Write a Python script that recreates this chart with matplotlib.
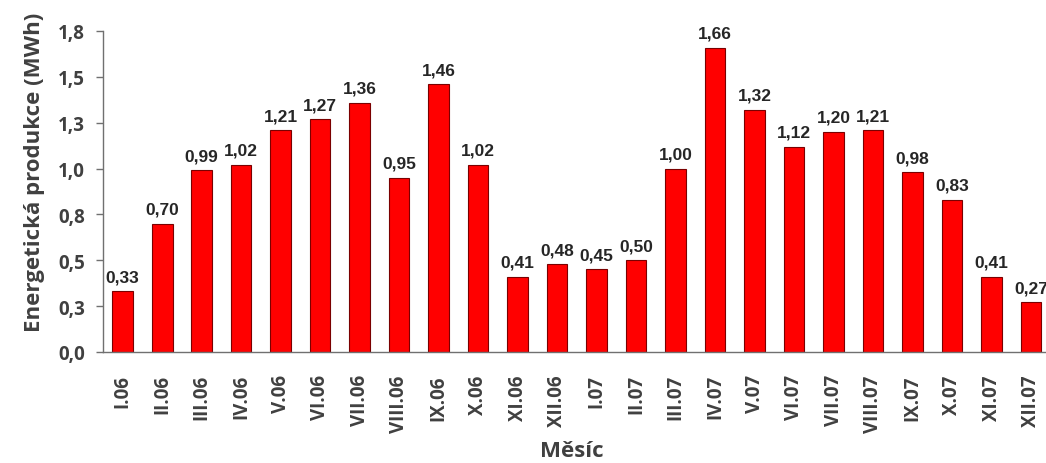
import matplotlib
matplotlib.use("Agg")
import matplotlib.pyplot as plt
from matplotlib import font_manager

months = ["I.06", "II.06", "III.06", "IV.06", "V.06", "VI.06", "VII.06", "VIII.06",
          "IX.06", "X.06", "XI.06", "XII.06", "I.07", "II.07", "III.07", "IV.07",
          "V.07", "VI.07", "VII.07", "VIII.07", "IX.07", "X.07", "XI.07", "XII.07"]
values = [0.33, 0.70, 0.99, 1.02, 1.21, 1.27, 1.36, 0.95, 1.46, 1.02, 0.41, 0.48,
          0.45, 0.50, 1.00, 1.66, 1.32, 1.12, 1.20, 1.21, 0.98, 0.83, 0.41, 0.27]
ytick_vals = [0.0, 0.25, 0.5, 0.75, 1.0, 1.25, 1.5, 1.75]
ytick_labels = ["0,0", "0,3", "0,5", "0,8", "1,0", "1,3", "1,5", "1,8"]

names = {f.name for f in font_manager.fontManager.ttflist}
narrow = "Liberation Sans Narrow" if "Liberation Sans Narrow" in names else "Liberation Sans"
label_font = "Open Sans" if "Open Sans" in names else "DejaVu Sans"

fig = plt.figure(figsize=(10.46, 4.64), dpi=100)
ax = fig.add_axes([103/1046, 1 - 353/464, 1 - 103/1046, (353 - 32)/464])

x = list(range(len(months)))
bars = ax.bar(x, values, width=0.52, color="#ff0000", edgecolor="#7a0000", linewidth=0.8)

for xi, v in zip(x, values):
    ax.annotate(f"{v:.2f}".replace(".", ","), (xi, v), xytext=(0, 5),
                textcoords="offset points", ha="center", va="bottom",
                fontsize=12.5, fontweight="bold", family=narrow, color="#262626")

ax.set_xlim(-0.5, 23.38)
ax.set_ylim(0, 1.75)
ax.set_yticks(ytick_vals)
ax.set_yticklabels(ytick_labels, fontsize=13.5, fontweight="bold", family=label_font, color="#404040")
ax.set_xticks(x)
ax.set_xticklabels(months, rotation=90, fontsize=13.5, fontweight="bold", family=label_font, color="#404040")
ax.tick_params(axis="x", length=0, pad=16)
ax.tick_params(axis="y", length=5, width=1, color="#707070", direction="out", pad=8)

for s in ["top", "right"]:
    ax.spines[s].set_visible(False)
ax.spines["left"].set_color("#707070")
ax.spines["bottom"].set_color("#707070")
ax.spines["left"].set_linewidth(1)
ax.spines["bottom"].set_linewidth(1)

ax.set_ylabel("Energetická produkce (MWh)", fontsize=16, fontweight="bold",
              family=label_font, color="#404040", labelpad=10)
ax.yaxis.set_label_coords(-68/943, (353 - 172)/321)
ax.set_xlabel("Měsíc", fontsize=16, fontweight="bold", family=label_font,
              color="#404040", labelpad=2)
ax.xaxis.set_label_coords((572 - 103)/943, -(452 - 353)/321)
ax.xaxis.label.set_va("center")
ax.yaxis.label.set_va("center")

fig.savefig("out.png", dpi=100)
